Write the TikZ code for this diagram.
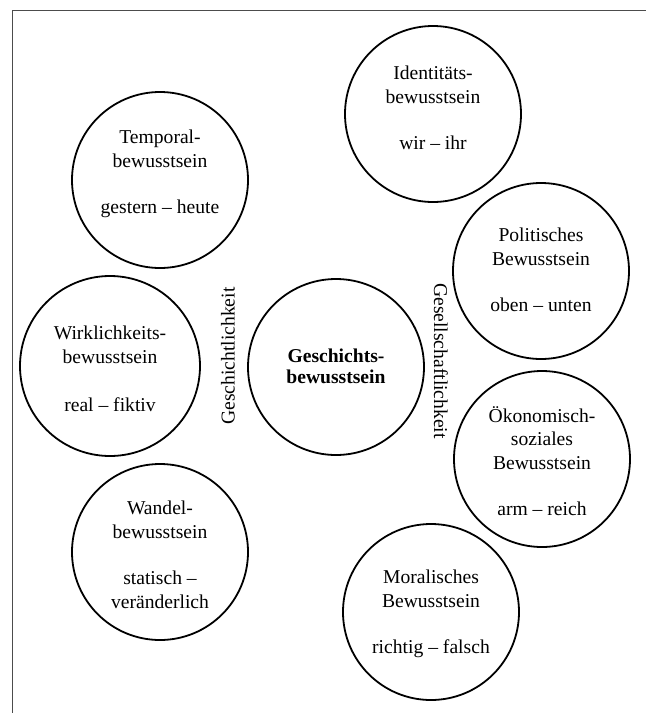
\documentclass[tikz,border=0pt]{standalone}
\usepackage{fontspec}
\setmainfont{Liberation Serif}
\begin{document}
\begin{tikzpicture}[x=1pt,y=-1pt,
  bubble/.style={circle,draw=black,line width=1.8pt,minimum size=176pt,inner sep=0pt},
  txt/.style={align=center,inner sep=0pt,font=\fontsize{19.6}{23.5}\selectfont},
  ctxt/.style={align=center,inner sep=0pt,font=\fontsize{19.6}{21}\selectfont\bfseries},
  side/.style={inner sep=0pt,font=\fontsize{19.6}{23.5}\selectfont},
  frameline/.style={draw=black!70,line width=1pt}]
\useasboundingbox (0,0) rectangle (646,713);
\coordinate (fb) at (12.5,713);
\coordinate (fc) at (12.5,10.7);
\coordinate (fr) at (646,10.7);
\draw[frameline] (fb) -- (fc) -- (fr);

\node[bubble] (ident) at (433,114) {};
\node[txt] (identt) at (433,108) {Identitäts-\\bewusstsein\\[23pt]wir – ihr};

\node[bubble] (temp) at (160,180) {};
\node[txt] (tempt) at (160,174) {Temporal-\\bewusstsein\\[23pt]gestern – heute};

\node[bubble,minimum size=180pt] (wirk) at (110,366) {};
\node[txt] (wirkt) at (110,369) {Wirklichkeits-\\bewusstsein\\[25pt]real – fiktiv};

\node[bubble] (wand) at (160,552) {};
\node[txt] (wandt) at (160,555) {Wandel-\\bewusstsein\\[23pt]statisch –\\veränderlich};

\node[bubble] (gesch) at (336,367) {};
\node[ctxt] (gescht) at (336,366) {Geschichts-\\bewusstsein};

\node[bubble] (pol) at (541,271) {};
\node[txt] (polt) at (541,270) {Politisches\\Bewusstsein\\[23pt]oben – unten};

\node[bubble] (oek) at (542,459) {};
\node[txt] (oekt) at (542,461) {Ökonomisch-\\soziales\\Bewusstsein\\[23pt]arm – reich};

\node[bubble] (mor) at (431,612) {};
\node[txt] (mort) at (431,614) {Moralisches\\Bewusstsein\\[23pt]richtig – falsch};

\node[side,rotate=90] (gl) at (228,356) {Geschichtlichkeit};
\node[side,rotate=-90] (gs) at (441,361) {Gesellschaftlichkeit};
\end{tikzpicture}
\end{document}
